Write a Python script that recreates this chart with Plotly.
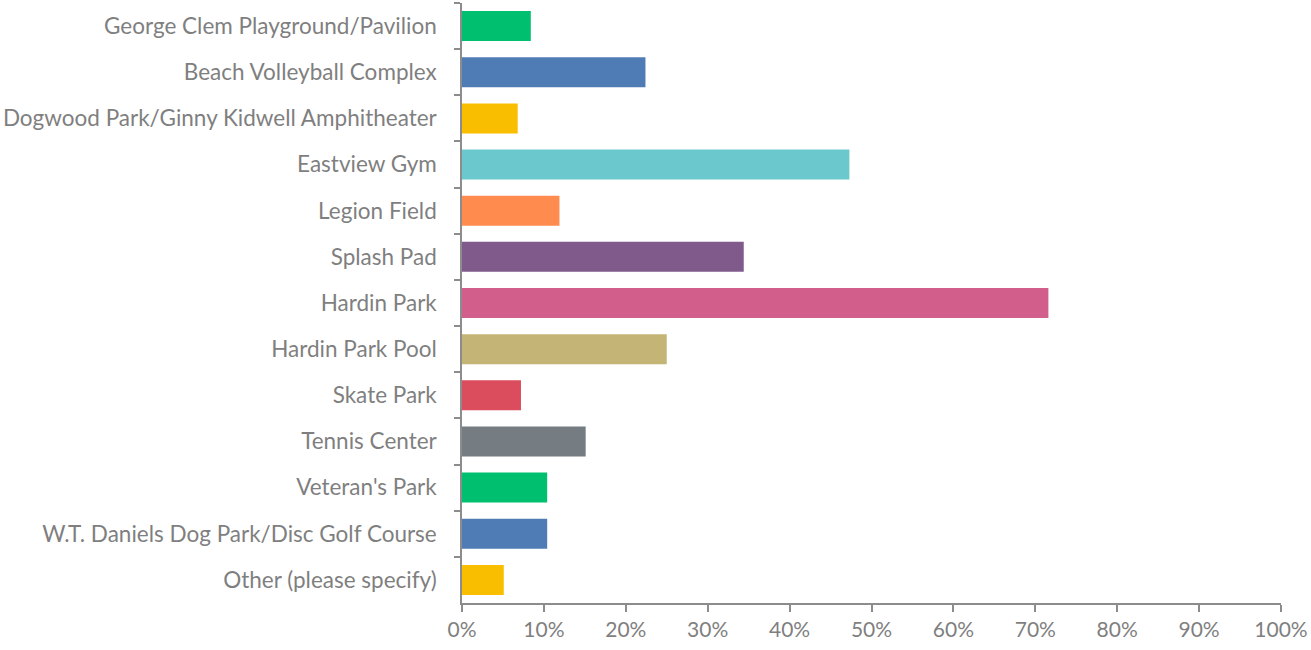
import plotly.graph_objects as go

facilities = [
    "George Clem Playground/Pavilion",
    "Beach Volleyball Complex",
    "Dogwood Park/Ginny Kidwell Amphitheater",
    "Eastview Gym",
    "Legion Field",
    "Splash Pad",
    "Hardin Park",
    "Hardin Park Pool",
    "Skate Park",
    "Tennis Center",
    "Veteran's Park",
    "W.T. Daniels Dog Park/Disc Golf Course",
    "Other (please specify)",
]
pct = [8.4, 22.4, 6.8, 47.3, 11.9, 34.4, 71.6, 25.0, 7.2, 15.1, 10.4, 10.4, 5.1]
bar_colors = [
    "#00BF6F", "#507CB6", "#F9BE00", "#6BC8CD", "#FF8B4F", "#7F5A8B",
    "#D25F8B", "#C4B576", "#DB4D5C", "#757D82", "#00BF6F", "#507CB6", "#F9BE00",
]
x_ticks = list(range(0, 101, 10))

grey = "#7f7f7f"
axis_grey = "#8c8c8c"

fig = go.Figure(go.Bar(
    x=pct,
    y=facilities,
    orientation="h",
    marker=dict(color=bar_colors, line=dict(width=0)),
    hovertemplate="%{y}: %{x:.1f}%<extra></extra>",
))

fig.update_layout(
    width=1311, height=650,
    margin=dict(l=461, r=27, t=3, b=47),
    plot_bgcolor="white", paper_bgcolor="white",
    bargap=0.35,
    showlegend=False,
    font=dict(family="Lato, Carlito, sans-serif", size=22, color=grey),
)
fig.update_xaxes(
    range=[0, 100],
    tickvals=x_ticks,
    ticktext=[f"{v}%" for v in x_ticks],
    showgrid=False, zeroline=False,
    showline=True, linecolor=axis_grey, linewidth=1.5,
    ticks="outside", ticklen=7, tickwidth=1.5, tickcolor=axis_grey,
    tickfont=dict(size=21, color=grey),
)
fig.update_yaxes(
    categoryorder="array", categoryarray=facilities,
    autorange="reversed",
    showgrid=False, zeroline=False,
    showline=True, linecolor=axis_grey, linewidth=1.5,
    ticks="outside", tickson="boundaries", ticklen=6, tickwidth=1.5,
    tickcolor=axis_grey,
    ticklabelstandoff=19,
    tickfont=dict(size=22.5, color=grey),
)

# drop the default page margin so the figure sits flush with the window
fig.write_html(
    "out.html",
    config={"displayModeBar": False},
    post_script="document.body.style.margin='0';",
)
